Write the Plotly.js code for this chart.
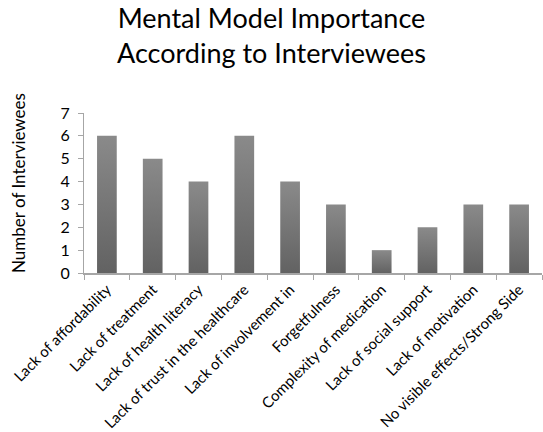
<!DOCTYPE html>
<html><head><meta charset="utf-8">
<script src="https://cdn.plot.ly/plotly-3.0.1.min.js"></script>
<style>html,body{margin:0;padding:0;background:#fff}</style>
</head><body>
<div id="chart" style="width:543px;height:432px"></div>
<script>
const categories = ["Lack of affordability","Lack of treatment","Lack of health literacy","Lack of trust in the healthcare","Lack of involvement in","Forgetfulness","Complexity of medication","Lack of social support","Lack of motivation","No visible effects/Strong Side"];
const counts = [6,5,4,6,4,3,1,2,3,3];
const yTicks = [0,1,2,3,4,5,6,7];
const yTitle = 'Number of Interviewees';
const fontFam = "Lato, 'Open Sans', sans-serif";
Plotly.newPlot('chart', [{
  type:'bar', x:categories, y:counts,
  marker:{color:'#767676', line:{width:0}},
  width:0.43, hoverinfo:'none'
}], {
  width:543, height:432,
  margin:{l:84, r:1, t:113, b:159},
  paper_bgcolor:'#fff', plot_bgcolor:'#fff',
  showlegend:false,
  title:{text:'Mental Model Importance<br>According to Interviewees', x:0.5, xanchor:'center', yref:'container', y:0.935, yanchor:'middle',
    font:{family:fontFam, size:27, color:'#000'}},
  xaxis:{type:'category', tickson:'boundaries', ticks:'outside', ticklen:5, tickcolor:'#a6a6a6', tickwidth:1,
    showline:true, linecolor:'#a6a6a6', linewidth:2, showgrid:false, tickangle:-45,
    tickfont:{family:fontFam, size:15, color:'#000'}, fixedrange:true},
  yaxis:{range:[0,7], tickvals:yTicks, ticks:'outside', ticklen:5, tickcolor:'#a6a6a6',
    showline:true, linecolor:'#a6a6a6', linewidth:1, showgrid:false, zeroline:false,
    ticklabelstandoff:5,
    tickfont:{family:fontFam, size:16, color:'#000'}, fixedrange:true},
  annotations:[{text:yTitle, textangle:-90, xref:'paper', yref:'paper', x:(18-84)/458, y:(273-183)/160,
    xanchor:'center', yanchor:'middle', showarrow:false, font:{family:fontFam, size:17, color:'#000'}}]
}, {displayModeBar:false, staticPlot:true}).then(gd => {
  const svg = gd.querySelector('svg.main-svg');
  const ns = 'http://www.w3.org/2000/svg';
  let defs = svg.querySelector('defs');
  if(!defs){defs=document.createElementNS(ns,'defs');svg.insertBefore(defs,svg.firstChild);}
  const lg = document.createElementNS(ns,'linearGradient');
  lg.setAttribute('id','barGrad'); lg.setAttribute('x1','0'); lg.setAttribute('y1','0'); lg.setAttribute('x2','0'); lg.setAttribute('y2','1');
  [['0%','#8a8a8a'],['100%','#626262']].forEach(([o,c])=>{const s=document.createElementNS(ns,'stop');s.setAttribute('offset',o);s.setAttribute('stop-color',c);lg.appendChild(s);});
  defs.appendChild(lg);
  gd.querySelectorAll('.point path').forEach(p=>{p.style.fill='url(#barGrad)';});
});
</script>
</body></html>
